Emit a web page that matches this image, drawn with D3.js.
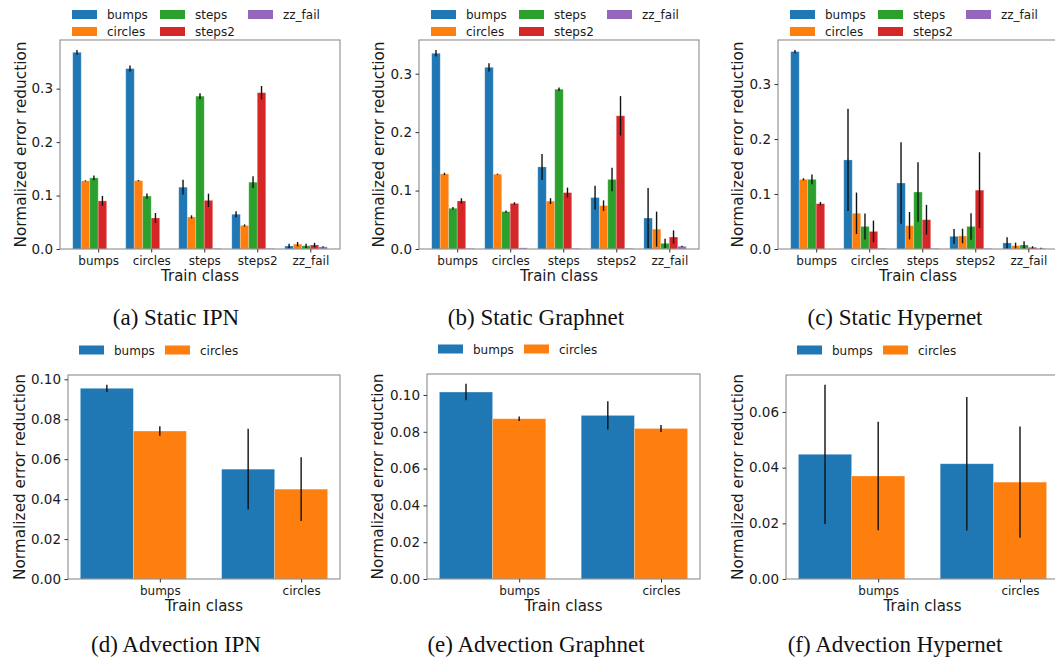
<!DOCTYPE html>
<html>
<head>
<meta charset="utf-8">
<script src="https://cdn.jsdelivr.net/npm/d3@7"></script>
<style>
  body { margin: 0; background: #fff; }
  svg { display: block; }
</style>
</head>
<body>
<svg id="chart" width="1055" height="659"></svg>
<script>
// categories
const staticClasses = ["bumps", "circles", "steps", "steps2", "zz_fail"];
const advClasses = ["bumps", "circles"];
const colors = ["#1f77b4", "#ff7f0e", "#2ca02c", "#d62728", "#9467bd"];

// (a) static IPN: one row per test class (series), one value per train class
const ipnStaticMean = [
  [0.368, 0.3375, 0.1156, 0.065, 0.0056],
  [0.1275, 0.128, 0.060, 0.044, 0.009],
  [0.133, 0.099, 0.286, 0.125, 0.006],
  [0.090, 0.058, 0.091, 0.2925, 0.0075],
  [0.0, 0.0, 0.001, 0.001, 0.004]
];
const ipnStaticErr = [
  [0.0044, 0.0056, 0.0138, 0.0056, 0.004],
  [0.001, 0.001, 0.003, 0.002, 0.004],
  [0.0044, 0.005, 0.0056, 0.011, 0.004],
  [0.0094, 0.0094, 0.0125, 0.0125, 0.004],
  [0, 0, 0, 0, 0.001]
];

// (b) static Graphnet
const graphStaticMean = [
  [0.335, 0.311, 0.1405, 0.088, 0.053],
  [0.1285, 0.128, 0.082, 0.0742, 0.034],
  [0.0697, 0.064, 0.2735, 0.119, 0.0097],
  [0.0822, 0.078, 0.0965, 0.228, 0.0205],
  [0.001, 0.002, 0.001, 0.001, 0.0046]
];
const graphStaticErr = [
  [0.0057, 0.0071, 0.0223, 0.0203, 0.0514],
  [0.002, 0.001, 0.005, 0.009, 0.030],
  [0.002, 0.002, 0.003, 0.020, 0.008],
  [0.0046, 0.002, 0.0086, 0.0337, 0.0114],
  [0, 0, 0, 0, 0.001]
];

// (c) static Hypernet
const hyperStaticMean = [
  [0.359, 0.162, 0.120, 0.023, 0.011],
  [0.1267, 0.065, 0.0424, 0.0236, 0.006],
  [0.1267, 0.041, 0.1036, 0.041, 0.0073],
  [0.0824, 0.032, 0.0533, 0.107, 0.003],
  [0.0, 0.001, 0.001, 0.001, 0.0012]
];
const hyperStaticErr = [
  [0.003, 0.093, 0.074, 0.0136, 0.0103],
  [0.002, 0.0376, 0.025, 0.0133, 0.0055],
  [0.009, 0.0236, 0.054, 0.024, 0.007],
  [0.003, 0.0197, 0.027, 0.069, 0.002],
  [0, 0, 0, 0, 0.001]
];

// (d)-(f) advection
const ipnAdvMean = [[0.0955, 0.055], [0.0741, 0.045]];
const ipnAdvErr = [[0.0018, 0.0202], [0.0024, 0.016]];
const graphAdvMean = [[0.1016, 0.0889], [0.0871, 0.0818]];
const graphAdvErr = [[0.0045, 0.0077], [0.0012, 0.0019]];
const hyperAdvMean = [[0.0448, 0.0414], [0.037, 0.0348]];
const hyperAdvErr = [[0.025, 0.024], [0.0195, 0.020]];

// tick labels
const staticTicks = [0, 0.1, 0.2, 0.3];
const ipnAdvTicks = [0, 0.02, 0.04, 0.06, 0.08, 0.10];
const graphAdvTicks = [0, 0.02, 0.04, 0.06, 0.08, 0.10];
const hyperAdvTicks = [0, 0.02, 0.04, 0.06];

const captions = [
  "(a) Static IPN", "(b) Static Graphnet", "(c) Static Hypernet",
  "(d) Advection IPN", "(e) Advection Graphnet", "(f) Advection Hypernet"
];

const svg = d3.select("#chart");
const sans = "DejaVu Sans, sans-serif";

const panels = [
  { mean: ipnStaticMean, err: ipnStaticErr, classes: staticClasses, ticks: staticTicks, fmt: ".1f",
    box: [60, 40, 340, 249], barW: 0.16, capX: 176, capY: 325, legend: "static", labelGap: 39 },
  { mean: graphStaticMean, err: graphStaticErr, classes: staticClasses, ticks: staticTicks, fmt: ".1f",
    box: [419, 40, 699, 249], barW: 0.16, capX: 536, capY: 325, legend: "static", labelGap: 40 },
  { mean: hyperStaticMean, err: hyperStaticErr, classes: staticClasses, ticks: staticTicks, fmt: ".1f",
    box: [778, 40, 1058, 249], barW: 0.16, capX: 895, capY: 325, legend: "static", labelGap: 40 },
  { mean: ipnAdvMean, err: ipnAdvErr, classes: advClasses, ticks: ipnAdvTicks, fmt: ".2f",
    box: [68, 375, 340, 579], barW: 0.375, capX: 176, capY: 652, legend: "adv", labelGap: 48 },
  { mean: graphAdvMean, err: graphAdvErr, classes: advClasses, ticks: graphAdvTicks, fmt: ".2f",
    box: [427, 374, 700, 579], barW: 0.375, capX: 536, capY: 652, legend: "adv", labelGap: 49 },
  { mean: hyperAdvMean, err: hyperAdvErr, classes: advClasses, ticks: hyperAdvTicks, fmt: ".2f",
    box: [786, 375, 1059, 579], barW: 0.375, capX: 895, capY: 652, legend: "adv", labelGap: 48 }
];

panels.forEach((p, i) => drawPanel(p, captions[i]));

function drawPanel(p, caption) {
  const [x0, y0, x1, y1] = p.box;
  const nSer = p.mean.length;
  const nGrp = p.classes.length;
  const w = p.barW;

  // matplotlib-like limits: 5% margin around the bars
  const lo = -w / 2, hi = (nGrp - 1) + (nSer - 1) * w + w / 2;
  const mx = (hi - lo) * 0.05;
  const x = d3.scaleLinear().domain([lo - mx, hi + mx]).range([x0, x1]);

  let top = 0;
  p.mean.forEach((row, s) => row.forEach((v, g) => { top = Math.max(top, v + p.err[s][g]); }));
  const y = d3.scaleLinear().domain([0, top * 1.05]).range([y1, y0]);

  const g = svg.append("g");

  // bars
  p.mean.forEach((row, s) => {
    g.selectAll(null)
      .data(row)
      .enter()
      .append("rect")
      .attr("x", (d, k) => x(k + s * w - w / 2))
      .attr("y", d => y(d))
      .attr("width", x(w) - x(0))
      .attr("height", d => y(0) - y(d))
      .attr("fill", colors[s])
      .attr("stroke", "#fff")
      .attr("stroke-opacity", 0.3)
      .attr("stroke-width", 0.8);
  });

  // error bars
  p.mean.forEach((row, s) => {
    g.selectAll(null)
      .data(row.map((d, k) => ({ k, d, e: p.err[s][k] })).filter(o => o.e > 0))
      .enter()
      .append("line")
      .attr("x1", o => x(o.k + s * w))
      .attr("x2", o => x(o.k + s * w))
      .attr("y1", o => y(Math.max(0, o.d - o.e)))
      .attr("y2", o => y(o.d + o.e))
      .attr("stroke", "#111")
      .attr("stroke-width", 1.4);
  });

  // frame
  g.append("rect")
    .attr("x", x0).attr("y", y0)
    .attr("width", x1 - x0).attr("height", y1 - y0)
    .attr("fill", "none")
    .attr("stroke", "#8c8c8c")
    .attr("stroke-width", 1.1);

  // axes
  const tickPos = p.classes.map((c, k) => k + nSer / 2 * w);
  const xAxis = d3.axisBottom(x)
    .tickValues(tickPos)
    .tickFormat((d, k) => p.classes[k])
    .tickSize(3.5).tickPadding(3.5);
  const gx = g.append("g").attr("transform", `translate(0,${y1})`).call(xAxis);
  gx.select(".domain").remove();
  gx.selectAll("text").attr("font-family", sans).attr("font-size", 12).attr("fill", "#1a1a1a");
  gx.selectAll("line").attr("stroke", "#333");

  const yAxis = d3.axisLeft(y)
    .tickValues(p.ticks)
    .tickFormat(d3.format(p.fmt))
    .tickSize(3.5).tickPadding(3.5);
  const gy = g.append("g").attr("transform", `translate(${x0},0)`).call(yAxis);
  gy.select(".domain").remove();
  gy.selectAll("text").attr("font-family", sans).attr("font-size", 13.5).attr("fill", "#1a1a1a");
  gy.selectAll("line").attr("stroke", "#333");

  // axis labels
  g.append("text")
    .attr("x", (x0 + x1) / 2).attr("y", y1 + 32)
    .attr("text-anchor", "middle")
    .attr("font-family", sans).attr("font-size", 15).attr("fill", "#1a1a1a")
    .text("Train class");

  g.append("text")
    .attr("transform", `translate(${x0 - p.labelGap + 5},${(y0 + y1) / 2}) rotate(-90)`)
    .attr("text-anchor", "middle")
    .attr("font-family", sans).attr("font-size", 15.3).attr("fill", "#1a1a1a")
    .text("Normalized error reduction");

  // legend
  const names = p.classes;
  names.forEach((name, s) => {
    let lxp, lyc;
    if (p.legend === "static") {
      lxp = x0 + 12 + Math.floor(s / 2) * 88;
      lyc = 14.5 + (s % 2) * 17;
    } else {
      lxp = x0 + 11 + s * 86;
      lyc = y0 - 25;
    }
    g.append("rect")
      .attr("x", lxp).attr("y", lyc - 4.5)
      .attr("width", 25).attr("height", 9)
      .attr("fill", colors[s]);
    g.append("text")
      .attr("x", lxp + 35).attr("y", lyc + 4.5)
      .attr("font-family", sans).attr("font-size", 12).attr("fill", "#1a1a1a")
      .text(name);
  });

  // caption
  svg.append("text")
    .attr("x", p.capX).attr("y", p.capY)
    .attr("text-anchor", "middle")
    .attr("font-family", "Liberation Serif, Times New Roman, serif")
    .attr("font-size", 23)
    .attr("fill", "#111")
    .text(caption);
}
</script>
</body>
</html>
